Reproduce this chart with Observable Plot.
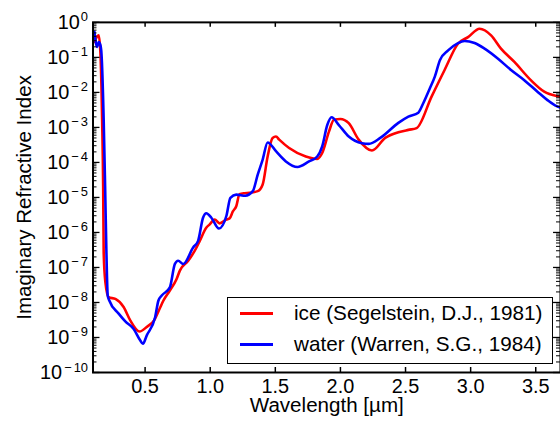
<!DOCTYPE html>
<html><head><meta charset="utf-8">
<script src="https://cdn.jsdelivr.net/npm/d3@7"></script>
<script src="https://cdn.jsdelivr.net/npm/@observablehq/plot@0.6"></script>
<style>
html,body{margin:0;padding:0;background:#fff;overflow:hidden;}
#wrap{position:relative;width:560px;height:426px;overflow:hidden;font-family:"Liberation Sans",Arial,sans-serif;}
#legend{position:absolute;left:227px;top:297px;width:326px;height:67px;box-sizing:border-box;border:1px solid #000;background:#fff;}
#legend .sw{position:absolute;left:12px;width:33px;height:3px;}
#legend .lb{position:absolute;left:66px;font-size:20.7px;line-height:24px;white-space:nowrap;color:#000;}
</style></head><body><div id="wrap"></div>
<script>
// ---- data ----
const iceWavelength = [0.111,0.132,0.144,0.157,0.170,0.178,0.182,0.195,0.220,0.272,0.335,0.386,0.457,0.513,0.569,0.615,0.640,0.690,0.742,0.767,0.831,0.895,0.920,0.971,0.996,1.034,1.072,1.124,1.149,1.174,1.200,1.225,1.263,1.301,1.365,1.403,1.441,1.479,1.505,1.530,1.606,1.734,1.822,1.860,1.912,1.950,2.000,2.064,2.140,2.242,2.344,2.445,2.522,2.585,2.700,2.800,2.903,2.980,3.069,3.157,3.233,3.336,3.462,3.565,3.660,3.690];
const iceK = [2.75e-1,3.98e-1,4.27e-1,1.32e-1,1.66e-3,2.09e-5,2.69e-7,3.80e-8,1.41e-8,1.26e-8,7.41e-9,3.09e-9,1.48e-9,2.0e-9,3.09e-9,7.08e-9,1.12e-8,2.19e-8,4.68e-8,8.13e-8,1.55e-7,3.72e-7,5.75e-7,1.38e-6,1.70e-6,2.34e-6,1.82e-6,2.34e-6,2.51e-6,3.98e-6,5.62e-6,1.23e-5,1.32e-5,1.35e-5,1.51e-5,2.34e-5,1.48e-4,5.01e-4,5.50e-4,4.47e-4,2.57e-4,1.48e-4,1.26e-4,1.86e-4,7.59e-4,1.66e-3,1.74e-3,1.32e-3,4.47e-4,2.19e-4,5.01e-4,7.24e-4,8.51e-4,9.55e-4,7.59e-3,4.37e-2,2.45e-1,3.80e-1,6.61e-1,4.27e-1,1.78e-1,7.41e-2,2.24e-2,1.05e-2,7.94e-3,7.59e-3];
const waterWavelength = [0.111,0.132,0.144,0.157,0.165,0.182,0.193,0.203,0.213,0.226,0.297,0.348,0.411,0.462,0.483,0.513,0.577,0.602,0.628,0.690,0.729,0.754,0.793,0.869,0.907,0.945,0.970,1.009,1.067,1.124,1.155,1.200,1.270,1.327,1.365,1.403,1.441,1.505,1.581,1.670,1.759,1.822,1.860,1.899,1.932,1.988,2.064,2.166,2.217,2.306,2.445,2.522,2.598,2.636,2.687,2.725,2.764,2.827,2.903,2.954,3.030,3.107,3.208,3.310,3.412,3.513,3.590,3.660,3.690];
const waterK = [5.37e-1,2.0e-1,2.75e-1,2.24e-1,1.29e-1,1.66e-3,2.09e-5,2.69e-7,1.58e-8,1.12e-8,4.79e-9,2.88e-9,1.78e-9,8.32e-10,6.61e-10,1.15e-9,3.80e-9,1.12e-8,1.58e-8,2.69e-8,1.26e-7,1.55e-7,1.26e-7,3.72e-7,5.75e-7,2.63e-6,3.55e-6,2.63e-6,1.29e-6,2.95e-6,9.77e-6,1.20e-5,1.12e-5,1.51e-5,4.47e-5,1.20e-4,3.72e-4,2.09e-4,1.07e-4,7.41e-5,1.07e-4,1.48e-4,2.88e-4,1.17e-3,1.95e-3,1.17e-3,5.50e-4,3.55e-4,3.39e-4,5.01e-4,1.35e-3,2.04e-3,2.63e-3,4.90e-3,1.32e-2,2.82e-2,8.32e-2,1.58e-1,2.57e-1,2.95e-1,2.57e-1,1.78e-1,9.33e-2,4.37e-2,2.24e-2,1.05e-2,6.03e-3,4.07e-3,3.72e-3];
const seriesNames = ["ice (Segelstein, D.J., 1981)", "water (Warren, S.G., 1984)"];
const seriesColors = ["#ff0000", "#0000ff"];
const xTicks = [0.5, 1.0, 1.5, 2.0, 2.5, 3.0, 3.5];
const yMajor = [1e-10,1e-9,1e-8,1e-7,1e-6,1e-5,1e-4,1e-3,1e-2,1e-1,1e0];
const xLabel = "Wavelength [\u00b5m]";
const yLabel = "Imaginary Refractive Index";

// ---- layout ----
const W = 563, H = 426, ML = 93, MR = 0, MT = 22, MB = 52;
const plotW = W - ML - MR, plotH = H - MT - MB;
const yMinor = [];
for (let e = -10; e < 0; e++) for (let m = 2; m <= 9; m++) yMinor.push(m * Math.pow(10, e));

const ice = iceWavelength.map((w, i) => ({w, k: iceK[i]}));
const water = waterWavelength.map((w, i) => ({w, k: waterK[i]}));

const chart = Plot.plot({
  width: W, height: H,
  marginLeft: ML, marginRight: MR, marginTop: MT, marginBottom: MB,
  style: {fontFamily: "'Liberation Sans', Arial, sans-serif", fontSize: "20px", background: "white", color: "black"},
  x: {domain: [0.1, 3.69]},
  y: {type: "log", domain: [1e-10, 1]},
  marks: [
    Plot.line(ice, {x: "w", y: "k", stroke: seriesColors[0], strokeWidth: 2.6, curve: "monotone-x"}),
    Plot.line(water, {x: "w", y: "k", stroke: seriesColors[1], strokeWidth: 2.6, curve: "monotone-x"}),
    Plot.tickX(xTicks, {x: d => d, insetTop: plotH - 5, strokeWidth: 1.5}),
    Plot.tickX(xTicks, {x: d => d, insetBottom: plotH - 5, strokeWidth: 1.5}),
    Plot.tickY(yMajor, {y: d => d, insetRight: plotW - 7, strokeWidth: 1.3}),
    Plot.tickY(yMinor, {y: d => d, insetRight: plotW - 4, strokeWidth: 1}),
    Plot.tickY(yMajor, {y: d => d, insetLeft: plotW - 7, strokeWidth: 1.3}),
    Plot.tickY(yMinor, {y: d => d, insetLeft: plotW - 4, strokeWidth: 1}),
    Plot.frame({stroke: "black", strokeWidth: 2}),
    Plot.axisX(xTicks, {tickSize: 0, tickPadding: 6, tickFormat: d3.format(".1f"), label: null, fontSize: 20}),
    Plot.axisY(yMajor, {tickSize: 0, tickPadding: 5, tickFormat: d => "10^" + Math.round(Math.log10(d)), label: null, fontSize: 20}),
    Plot.text([xLabel], {frameAnchor: "bottom", lineAnchor: "middle", textAnchor: "middle", dy: 33, text: d => d, fontSize: 20.7}),
    Plot.text([yLabel], {frameAnchor: "left", lineAnchor: "middle", textAnchor: "middle", dx: -69, rotate: -90, text: d => d, fontSize: 20.7})
  ]
});

// superscript exponents on the log axis labels
const NS = "http://www.w3.org/2000/svg";
chart.querySelectorAll("text").forEach(t => {
  const m = /^10\^(-?\d+)$/.exec(t.textContent);
  if (!m) return;
  const e = +m[1];
  t.textContent = "";
  const b = document.createElementNS(NS, "tspan");
  b.textContent = "10";
  t.appendChild(b);
  if (e < 0) {
    const mi = document.createElementNS(NS, "tspan");
    mi.setAttribute("dy", "-7.4"); mi.setAttribute("dx", "2");
    mi.setAttribute("font-size", "13");
    mi.textContent = "\u2212";
    t.appendChild(mi);
    const dg = document.createElementNS(NS, "tspan");
    dg.setAttribute("dx", "2"); dg.setAttribute("font-size", "13");
    dg.textContent = String(-e);
    t.appendChild(dg);
  } else {
    const s = document.createElementNS(NS, "tspan");
    s.setAttribute("dy", "-7.4"); s.setAttribute("dx", "1");
    s.setAttribute("font-size", "13");
    s.textContent = String(e);
    t.appendChild(s);
  }
});

const wrap = document.getElementById("wrap");
wrap.appendChild(chart);

// legend inside the axes
const leg = document.createElement("div");
leg.id = "legend";
seriesNames.forEach((name, i) => {
  const cy = i === 0 ? 15 : 46;
  const sw = document.createElement("div");
  sw.className = "sw";
  sw.style.top = (cy - 1.5) + "px";
  sw.style.background = seriesColors[i];
  leg.appendChild(sw);
  const lb = document.createElement("div");
  lb.className = "lb";
  lb.style.top = (cy - 12) + "px";
  lb.textContent = name;
  leg.appendChild(lb);
});
wrap.appendChild(leg);
</script>
</body></html>
